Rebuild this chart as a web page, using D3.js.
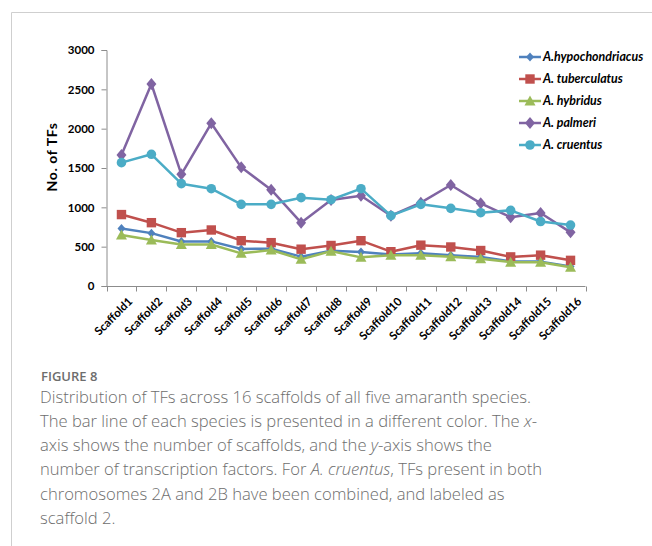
<!DOCTYPE html>
<html><head><meta charset="utf-8">
<script src="https://cdn.jsdelivr.net/npm/d3@7"></script>
<style>
body{margin:0;background:#fff;}
svg{display:block;}
</style></head>
<body>
<svg id="chart" width="652" height="546"></svg>
<script>
const categories = ["Scaffold1","Scaffold2","Scaffold3","Scaffold4","Scaffold5","Scaffold6","Scaffold7","Scaffold8","Scaffold9","Scaffold10","Scaffold11","Scaffold12","Scaffold13","Scaffold14","Scaffold15","Scaffold16"];
const seriesNames = ["A.hypochondriacus","A. tuberculatus","A. hybridus","A. palmeri","A. cruentus"];
const hypochondriacus = [730,672,565,567,470,475,373,447,432,400,415,392,370,312,310,248];
const tuberculatus    = [908,805,678,712,576,551,468,515,576,436,519,496,451,370,392,326];
const hybridus        = [648,585,528,528,415,458,339,443,364,390,392,373,345,303,301,238];
const palmeri         = [1665,2568,1419,2068,1508,1225,805,1093,1148,894,1059,1284,1051,875,928,682];
const cruentus        = [1568,1674,1301,1237,1038,1038,1123,1097,1237,894,1038,987,932,962,820,775];
const yTicks = [0,500,1000,1500,2000,2500,3000];
const colors = ["#4F81BD","#C0504D","#9BBB59","#8064A2","#4BACC6"];
const markers = ["diamond","square","triangle","diamond2","circle"];
const figLabel = "FIGURE 8";
const captionLines = [
  [{t:"Distribution of TFs across 16 scaffolds of all five amaranth species."}],
  [{t:"The bar line of each species is presented in a different color. The "},{t:"x",i:true},{t:"-"}],
  [{t:"axis shows the number of scaffolds, and the "},{t:"y",i:true},{t:"-axis shows the"}],
  [{t:"number of transcription factors. For "},{t:"A. cruentus",i:true},{t:", TFs present in both"}],
  [{t:"chromosomes 2A and 2B have been combined, and labeled as"}],
  [{t:"scaffold 2."}]
];

const data = [hypochondriacus,tuberculatus,hybridus,palmeri,cruentus];
const svg = d3.select("#chart");
const font = "Lato, 'Liberation Sans', sans-serif";

// frame
svg.append("line").attr("x1",11.5).attr("x2",652).attr("y1",12.5).attr("y2",12.5).attr("stroke","#cfcfcf");
svg.append("line").attr("x1",11.5).attr("x2",11.5).attr("y1",12.5).attr("y2",546).attr("stroke","#cfcfcf");

const x = d3.scaleBand().domain(categories).range([106.5,585.5]);
const y = d3.scaleLinear().domain([0,3000]).range([286,50]);

// y axis
const yAxis = svg.append("g").attr("transform","translate(106.5,0)")
  .call(d3.axisLeft(y).tickValues(yTicks).tickSize(5).tickPadding(7).tickFormat(d3.format("d")));
yAxis.selectAll("path,line").attr("stroke","#8c8c8c");
yAxis.selectAll("text").attr("font-family",font).attr("font-weight","bold").attr("font-size","11.5px").attr("fill","#000");

// x axis
const xAxisG = svg.append("g").attr("transform","translate(0,286.5)");
xAxisG.append("line").attr("x1",106.5).attr("x2",585.5).attr("stroke","#8c8c8c");
xAxisG.selectAll("line.t").data(d3.range(categories.length+1)).join("line")
  .attr("class","t")
  .attr("x1",i=>Math.round(106.5+i*x.bandwidth())+0.5)
  .attr("x2",i=>Math.round(106.5+i*x.bandwidth())+0.5)
  .attr("y1",0).attr("y2",5).attr("stroke","#8c8c8c");
xAxisG.selectAll("text").data(categories).join("text")
  .attr("transform",d=>`translate(${x(d)+x.bandwidth()/2+6},${10}) rotate(-45)`)
  .attr("text-anchor","end").attr("dy","0.7em")
  .attr("font-family",font).attr("font-weight","bold").attr("font-size","11.5px")
  .text(d=>d);

// y title
svg.append("text").attr("transform","translate(57,157) rotate(-90)")
  .attr("text-anchor","middle").attr("font-family",font).attr("font-weight","bold")
  .attr("font-size","14px").attr("letter-spacing","0.6px").text("No. of TFs");

function drawMarker(g,type,color){
  if(type==="circle") g.append("circle").attr("r",4.8).attr("fill",color);
  else if(type==="square") g.append("rect").attr("x",-4.7).attr("y",-4.7).attr("width",9.4).attr("height",9.4).attr("fill",color);
  else if(type==="triangle") g.append("path").attr("d","M0,-5.5L5.5,4.5L-5.5,4.5Z").attr("fill",color);
  else if(type==="diamond") g.append("path").attr("d","M0,-4.5L4,0L0,4.5L-4,0Z").attr("fill",color);
  else g.append("path").attr("d","M0,-6L5,0L0,6L-5,0Z").attr("fill",color);
}

const line = d3.line().x((d,i)=>x(categories[i])+x.bandwidth()/2).y(d=>y(d));
data.forEach((vals,si)=>{
  const g = svg.append("g");
  g.append("path").datum(vals).attr("d",line).attr("fill","none")
    .attr("stroke",colors[si]).attr("stroke-width",2.5).attr("stroke-linejoin","round");
  vals.forEach((v,i)=>{
    const m = g.append("g").attr("transform",`translate(${x(categories[i])+x.bandwidth()/2},${y(v)})`);
    drawMarker(m,markers[si],colors[si]);
  });
});

// legend
const legendY = [57,79,101,123,145];
seriesNames.forEach((n,si)=>{
  const g = svg.append("g").attr("transform",`translate(519,${legendY[si]})`);
  g.append("line").attr("x1",0).attr("x2",22).attr("stroke",colors[si]).attr("stroke-width",2.5);
  const m = g.append("g").attr("transform","translate(11,0)");
  drawMarker(m,markers[si],colors[si]);
  g.append("text").attr("x",24).attr("dy","0.35em").attr("font-family",font)
    .attr("font-weight","bold").attr("font-style","italic").attr("font-size","12.4px").text(n);
});

// caption
const capFont = "'Open Sans', 'Noto Sans', sans-serif";
svg.append("text").attr("x",41).attr("y",381).attr("font-family",capFont)
  .attr("font-weight",600).attr("font-size","13px").attr("fill","#6d6d6d").text(figLabel);
captionLines.forEach((parts,li)=>{
  const t = svg.append("text").attr("x",40).attr("y",402.5+li*24.3)
    .attr("font-family",capFont).attr("font-weight",300).attr("font-size","16.6px").attr("fill","#6d6d6d");
  parts.forEach(p=>{
    const ts = t.append("tspan").text(p.t);
    if(p.i) ts.attr("font-style","italic");
  });
});
</script>
</body></html>
